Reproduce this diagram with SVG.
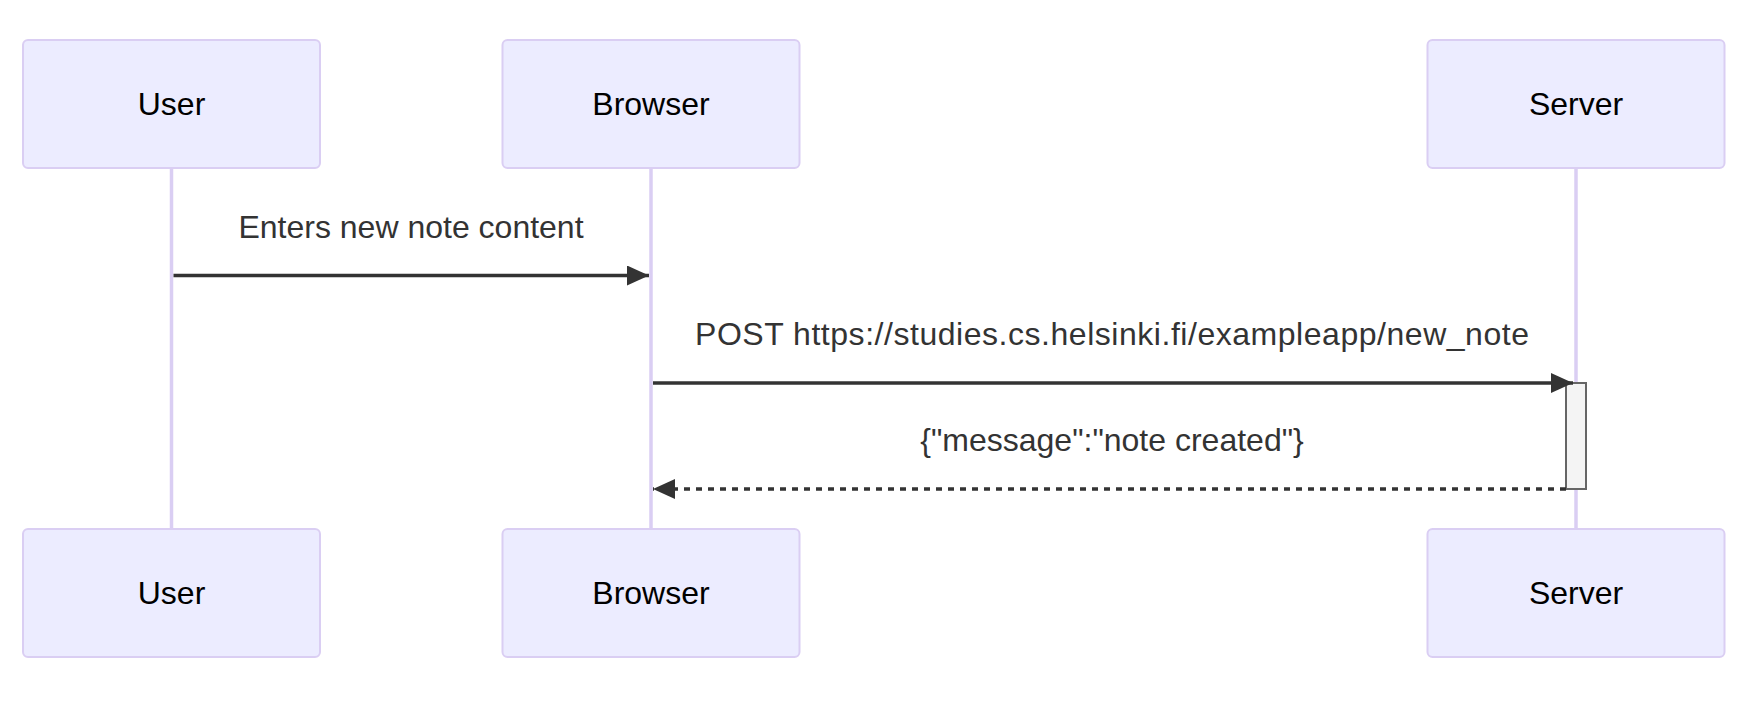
<svg xmlns="http://www.w3.org/2000/svg" width="1756" height="702" viewBox="0 0 1756 702">
<style>
.actor{fill:#ECECFF;stroke:#DACEF3;stroke-width:2}
.atext{font-family:"Liberation Sans",Arial,sans-serif;font-size:32px;fill:#000;text-anchor:middle;dominant-baseline:central}
.life{stroke:#DACEF3;stroke-width:3.5}
.msg{stroke:#333;stroke-width:3.5;fill:none}
.dash{stroke-dasharray:6,6}
.mtext{font-family:"Liberation Sans",Arial,sans-serif;font-size:32px;fill:#333;text-anchor:middle}
.act{fill:#F4F4F4;stroke:#666;stroke-width:2}
</style>
<defs>
<marker id="arrow" markerUnits="userSpaceOnUse" viewBox="0 0 22 20" refX="22" refY="10" markerWidth="22" markerHeight="20" orient="auto">
<path d="M0,0 L22,10 L0,20 Z" fill="#333"/>
</marker>
</defs>
<rect width="1756" height="702" fill="#fff"/>
<g id="lifelines">
<line class="life" x1="171.5" y1="168" x2="171.5" y2="529"/>
<line class="life" x1="651" y1="168" x2="651" y2="529"/>
<line class="life" x1="1576" y1="168" x2="1576" y2="529"/>
</g>
<g id="user-top"><rect class="actor" x="23" y="40" width="297" height="128" rx="5"/><text class="atext" x="171.5" y="104">User</text></g>
<g id="browser-top"><rect class="actor" x="502.5" y="40" width="297" height="128" rx="5"/><text class="atext" x="651" y="104">Browser</text></g>
<g id="server-top"><rect class="actor" x="1427.5" y="40" width="297" height="128" rx="5"/><text class="atext" x="1576" y="104">Server</text></g>
<g id="user-bottom"><rect class="actor" x="23" y="529" width="297" height="128" rx="5"/><text class="atext" x="171.5" y="593">User</text></g>
<g id="browser-bottom"><rect class="actor" x="502.5" y="529" width="297" height="128" rx="5"/><text class="atext" x="651" y="593">Browser</text></g>
<g id="server-bottom"><rect class="actor" x="1427.5" y="529" width="297" height="128" rx="5"/><text class="atext" x="1576" y="593">Server</text></g>
<g id="activation"><rect class="act" x="1566" y="383" width="20" height="106"/></g>
<g id="connectors">
<text class="mtext" x="411" y="238">Enters new note content</text>
<line class="msg" x1="173.5" y1="275.5" x2="649" y2="275.5" marker-end="url(#arrow)"/>
<text class="mtext" x="1112" y="344.5" textLength="834" lengthAdjust="spacing">POST https://studies.cs.helsinki.fi/exampleapp/new_note</text>
<line class="msg" x1="653" y1="383" x2="1573" y2="383" marker-end="url(#arrow)"/>
<text class="mtext" x="1112" y="451">{"message":"note created"}</text>
<line class="msg dash" x1="1566" y1="489" x2="653" y2="489" marker-end="url(#arrow)"/>
</g>
</svg>
